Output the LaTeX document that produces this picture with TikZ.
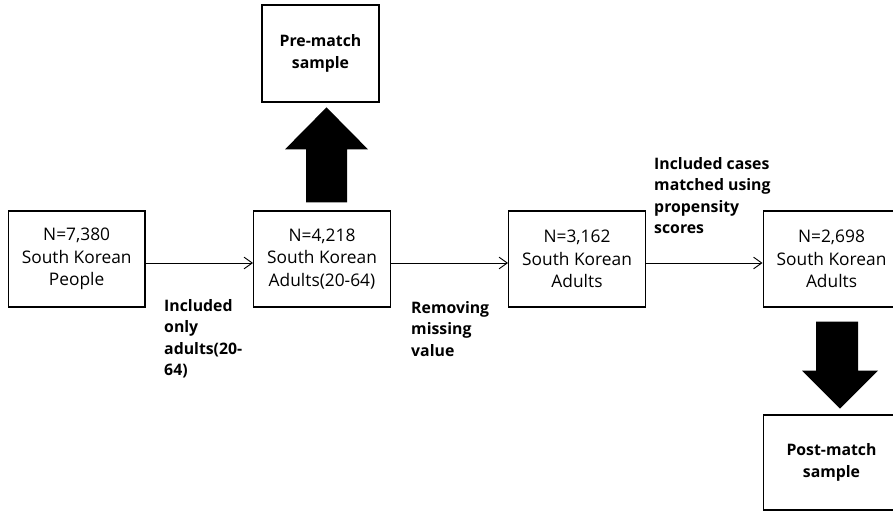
\documentclass[tikz,border=0pt]{standalone}
\usepackage{fontspec}
\setmainfont{Open Sans}
\usetikzlibrary{calc,arrows.meta}

\begin{document}
\begin{tikzpicture}[
    font=\fontsize{14.8}{19.2}\selectfont,
    box/.style={draw, line width=1.1pt, minimum width=4.1cm, minimum height=2.88cm, align=center, inner sep=2pt},
    sample/.style={box, font=\fontsize{13.5}{18.3}\selectfont\bfseries},
    note/.style={anchor=north west, align=left, inner sep=0pt, font=\fontsize{13.5}{18.3}\selectfont\bfseries},
    flow/.style={-{Straight Barb[length=7pt,width=10pt]}, line width=0.8pt}
  ]
    \useasboundingbox (0,0) rectangle (26.79,-15.33);
    \clip (0,0) rectangle (26.79,-15.33);

    % Main row
    \node [box] (n1) at (2.30,-7.77) {N=7,380\\South Korean\\People};
    \node [box] (n2) at (9.66,-7.77) {N=4,218\\South Korean\\Adults(20-64)};
    \node [box] (n3) at (17.31,-7.77) {N=3,162\\South Korean\\Adults};
    \node [box] (n4) at (24.945,-7.77) {N=2,698\\South Korean\\Adults};

    \draw [flow] ([yshift=-0.12cm]n1.east) -- ([yshift=-0.12cm]n2.west);
    \draw [flow] ([yshift=-0.12cm]n2.east) -- ([yshift=-0.12cm]n3.west);
    \draw [flow] ([yshift=-0.12cm]n3.east) -- ([yshift=-0.12cm]n4.west);

    \node [note] (only) at (4.92,-8.97) {Included\\only\\adults(20-\\64)};
    \node [note] (miss) at (12.33,-9.03) {Removing\\missing\\value};
    \node [note] (score) at (19.62,-4.71) {Included cases\\matched using\\propensity\\scores};

    % Pre-match
    \node [sample, minimum width=3.51cm, minimum height=2.91cm] (pre) at (9.615,-1.605) {Pre-match\\sample};
    \fill ($(n2.north)+(-0.48,0.24)$) -- ++(0,1.59) -- ++(-0.63,0) -- ++(1.245,1.26)
        -- ++(1.245,-1.26) -- ++(-0.63,0) -- ++(0,-1.59) -- cycle;

    % Post-match
    \node [sample, minimum height=2.85cm] (post) at (24.945,-13.875) {Post-match\\sample};
    \fill ($(n4.south)+(-0.465,-0.42)$) -- ++(0,-1.47) -- ++(-0.42,0) -- ++(1.14,-1.14)
        -- ++(1.14,1.14) -- ++(-0.60,0) -- ++(0,1.47) -- cycle;
\end{tikzpicture}
\end{document}
